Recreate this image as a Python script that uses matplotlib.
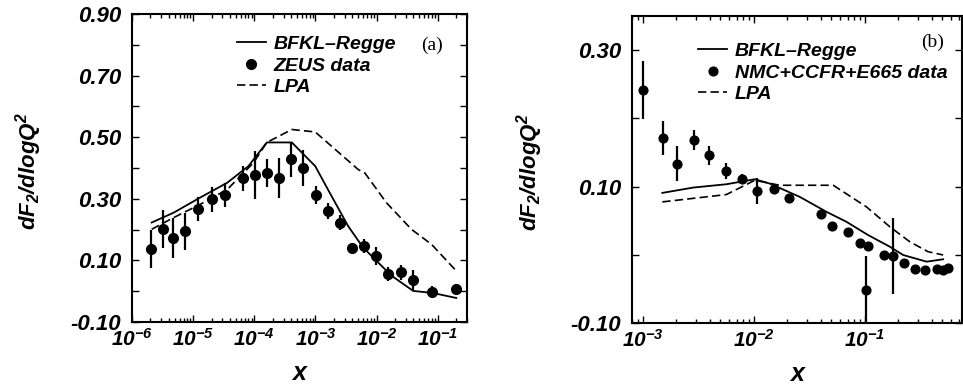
#!/usr/bin/env python3

import numpy as np
import matplotlib
matplotlib.use("Agg")
import matplotlib.pyplot as plt
from matplotlib.lines import Line2D
from matplotlib.ticker import FixedLocator, FormatStrFormatter, LogLocator

# ---- panel (a): ZEUS ----
zeus_x = [2.08e-6, 3.18e-6, 4.63e-6, 7.27e-6, 1.20e-5, 2.03e-5, 3.35e-5, 6.5e-5,
          1.03e-4, 1.61e-4, 2.55e-4, 4.0e-4, 6.35e-4, 1.01e-3, 1.62e-3, 2.52e-3,
          3.91e-3, 6.28e-3, 9.75e-3, 1.55e-2, 2.49e-2, 3.95e-2, 8.07e-2, 0.20]
zeus_y = [0.136, 0.201, 0.174, 0.194, 0.266, 0.298, 0.312, 0.366,
          0.377, 0.384, 0.366, 0.428, 0.401, 0.312, 0.260, 0.223,
          0.139, 0.147, 0.115, 0.055, 0.061, 0.036, -0.001, 0.007]
zeus_err = [0.062, 0.062, 0.065, 0.060, 0.039, 0.040, 0.040, 0.042,
            0.078, 0.045, 0.065, 0.058, 0.058, 0.030, 0.025, 0.025,
            0.016, 0.022, 0.030, 0.022, 0.024, 0.032, 0.018, 0.016]

bfkl_a_x = [2.1e-6, 4.8e-6, 1.3e-5, 3.6e-5, 8.0e-5, 1.6e-4, 4.1e-4, 9.9e-4,
            1.6e-3, 3.4e-3, 6.0e-3, 1.0e-2, 1.76e-2, 3.95e-2, 8.4e-2, 0.20]
bfkl_a_y = [0.223, 0.255, 0.304, 0.352, 0.406, 0.483, 0.483, 0.406,
            0.330, 0.212, 0.142, 0.098, 0.050, 0.001, -0.006, -0.022]

lpa_a_x = [2.1e-6, 4.8e-6, 1.3e-5, 3.6e-5, 9.7e-5, 1.6e-4, 4.1e-4, 9.9e-4,
           5.0e-3, 6.4e-3, 1.45e-2, 3.7e-2, 7.9e-2, 0.20]
lpa_a_y = [0.201, 0.239, 0.282, 0.330, 0.417, 0.483, 0.525, 0.517,
           0.395, 0.384, 0.287, 0.201, 0.152, 0.066]

# ---- panel (b): NMC+CCFR+E665 ----
fixed_x = [1.0e-3, 1.52e-3, 2.04e-3, 2.9e-3, 3.95e-3, 5.67e-3, 7.85e-3, 1.06e-2,
           1.51e-2, 2.08e-2, 4.02e-2, 5.07e-2, 7.08e-2, 9.0e-2, 0.106, 0.102,
           0.150, 0.180, 0.223, 0.281, 0.351, 0.445, 0.501, 0.560]
fixed_y = [0.2416, 0.171, 0.1336, 0.1686, 0.1457, 0.1228, 0.1117, 0.0936,
           0.0971, 0.0825, 0.0591, 0.0425, 0.0328, 0.0177, 0.0128, -0.0514,
           -0.0003, -0.0022, -0.0124, -0.0212, -0.0222, -0.0212, -0.0218, -0.0188]
fixed_err = [0.043, 0.025, 0.026, 0.015, 0.014, 0.012, 0.006, 0.019,
             0.005, 0.005, 0.004, 0.004, 0.004, 0.004, 0.004, 0.050,
             0.004, 0.056, 0.004, 0.003, 0.003, 0.003, 0.003, 0.003]

bfkl_b_x = [1.50e-3, 2.84e-3, 5.67e-3, 1.02e-2, 1.39e-2, 2.6e-2, 4.52e-2,
            6.84e-2, 0.107, 0.168, 0.221, 0.36, 0.507]
bfkl_b_y = [0.0907, 0.0985, 0.1034, 0.1107, 0.1044, 0.0848, 0.0629,
            0.0483, 0.0289, 0.0118, -0.0003, -0.0101, -0.0066]

lpa_b_x = [1.50e-3, 5.67e-3, 1.02e-2, 1.71e-2, 5.19e-2, 0.1035, 0.168,
           0.254, 0.371, 0.507]
lpa_b_y = [0.0775, 0.0883, 0.1092, 0.1019, 0.1019, 0.0702, 0.041,
           0.0191, 0.0045, -0.0003]

yticks_a = [-0.10, 0.10, 0.30, 0.50, 0.70, 0.90]
yminor_a = [0.0, 0.2, 0.4, 0.6, 0.8]
yticks_b = [-0.10, 0.10, 0.30]
yminor_b = [0.0, 0.2]

plt.rcParams.update({
    'font.family': 'Liberation Sans',
    'font.weight': 'bold',
    'font.style': 'italic',
    'axes.labelweight': 'bold',
    'mathtext.fontset': 'custom',
    'mathtext.rm': 'Liberation Sans:bold:italic',
    'mathtext.it': 'Liberation Sans:bold:italic',
    'mathtext.bf': 'Liberation Sans:bold:italic',
    'axes.linewidth': 1.5,
})

fig = plt.figure(figsize=(9.63, 3.90), dpi=100)
ax1 = fig.add_axes([132/963, 1-322/390, 335/963, 308/390])
ax2 = fig.add_axes([632/963, 1-323/390, 330/963, 307/390])

dash = (0, (5, 2.5))


def style_axes(ax, yticks, yminor):
    ax.set_xscale('log')
    ax.yaxis.set_major_locator(FixedLocator(yticks))
    ax.yaxis.set_minor_locator(FixedLocator(yminor))
    ax.yaxis.set_major_formatter(FormatStrFormatter('%.2f'))
    ax.xaxis.set_major_locator(LogLocator(base=10, numticks=20))
    ax.xaxis.set_minor_locator(LogLocator(base=10, subs=np.arange(2, 10), numticks=20))
    ax.tick_params(which='both', direction='in', top=True, right=True, width=1.0)
    ax.tick_params(which='major', length=5)
    ax.tick_params(which='minor', length=3)
    ax.tick_params(axis='y', which='both', length=5, labelsize=16, pad=8)
    ax.tick_params(axis='x', which='major', labelsize=15, pad=4)
    ax.set_xlabel('x', fontsize=18)
    ax.set_ylabel(r'dF$_2$/dlogQ$^2$', fontsize=16)


def add_legend(ax, handles, anchor):
    ax.legend(handles=handles, loc='upper left', bbox_to_anchor=anchor,
              frameon=False, fontsize=14, handlelength=1.5, handletextpad=0.4,
              labelspacing=0.2, borderpad=0, borderaxespad=0, numpoints=1)


# (a)
h1, = ax1.plot(bfkl_a_x, bfkl_a_y, 'k-', lw=1.3, label='BFKL\u2013Regge')
ax1.errorbar(zeus_x, zeus_y, yerr=zeus_err, fmt='o', color='k', ms=7,
             elinewidth=1.6, capsize=0)
h3, = ax1.plot(lpa_a_x, lpa_a_y, 'k', ls=dash, lw=1.2, label='LPA')
h2 = Line2D([], [], marker='o', ls='none', color='k', ms=7, label='ZEUS data')
ax1.set_xlim(1e-6, 0.3)
ax1.set_ylim(-0.10, 0.90)
style_axes(ax1, yticks_a, yminor_a)
ax1.xaxis.set_label_coords(0.5, -0.125)
ax1.yaxis.set_label_coords(-0.263, 0.49)
add_legend(ax1, [h1, h2, h3], (0.313, 0.93))
ax1.text(0.896, 0.899, '(a)', transform=ax1.transAxes, ha='center', va='center',
         fontsize=14, family='Liberation Serif', style='normal', weight='normal')

# (b)
g1, = ax2.plot(bfkl_b_x, bfkl_b_y, 'k-', lw=1.3, label='BFKL\u2013Regge')
ax2.errorbar(fixed_x, fixed_y, yerr=fixed_err, fmt='o', color='k', ms=6.3,
             elinewidth=1.6, capsize=0)
g3, = ax2.plot(lpa_b_x, lpa_b_y, 'k', ls=dash, lw=1.2, label='LPA')
g2 = Line2D([], [], marker='o', ls='none', color='k', ms=6.3,
            label='NMC+CCFR+E665 data')
ax2.set_xlim(8e-4, 0.75)
ax2.set_ylim(-0.10, 0.35)
style_axes(ax2, yticks_b, yminor_b)
ax2.xaxis.set_label_coords(0.5, -0.127)
ax2.yaxis.set_label_coords(-0.265, 0.49)
add_legend(ax2, [g1, g2, g3], (0.2006, 0.914))
ax2.text(0.912, 0.915, '(b)', transform=ax2.transAxes, ha='center', va='center',
         fontsize=14, family='Liberation Serif', style='normal', weight='normal')

fig.savefig('out.png', dpi=100)
